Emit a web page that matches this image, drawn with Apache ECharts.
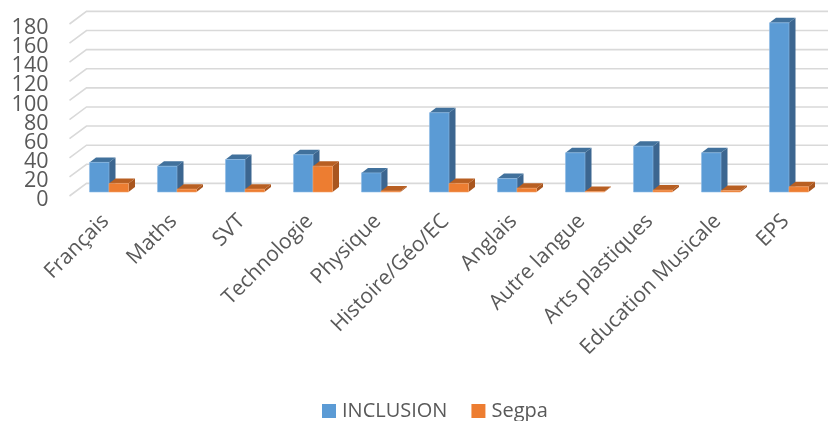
<!DOCTYPE html>
<html><head><meta charset="utf-8">
<style>html,body{margin:0;padding:0;background:#fff}#c{width:828px;height:421px}</style>
<script src="https://cdn.jsdelivr.net/npm/echarts@6/dist/echarts.min.js"></script>
</head><body><div id="c"></div>
<script>
const categories = ["Français","Maths","SVT","Technologie","Physique","Histoire/Géo/EC","Anglais","Autre langue","Arts plastiques","Education Musicale","EPS"];
const inclusion = [31,27,34,39,20,83,14,41,48,41,177];
const segpa = [9,3,3,27,1,9,4,0.5,2,1.5,5.5];
const ticks = [0,20,40,60,80,100,120,140,160,180];

const chart = echarts.init(document.getElementById('c'), null, {renderer:'canvas'});
const DX = 17, DY = 12.6, PX = 5.5, PY = 4, BD = 6.5, BDY = 5;
function bar(seriesIdx, front, side, top) {
  return function (params, api) {
    const cat = api.value(0), val = api.value(1);
    const base = api.coord([cat, 0]), head = api.coord([cat, val]);
    const w = api.size([1, 0])[0] * 0.2868;
    const x0 = base[0] + PX + (seriesIdx === 0 ? -w : 0), x1 = x0 + w;
    const yb = base[1] - PY, yt = head[1] - PY;
    return {type:'group', children:[
      {type:'polygon', shape:{points:[[x1,yb],[x1+BD,yb-BDY],[x1+BD,yt-BDY],[x1,yt]]}, style:{fill:side}},
      {type:'polygon', shape:{points:[[x0,yt],[x0+BD,yt-BDY],[x1+BD,yt-BDY],[x1,yt]]}, style:{fill:top}},
      {type:'rect', shape:{x:x0,y:yt,width:w,height:yb-yt}, style:{fill:front, stroke:seriesIdx===0?'#8fbce6':'#f4a26a', lineWidth:0.6}}
    ]};
  };
}
const yLabel = {fontSize:21.5, lineHeight:8, verticalAlign:'top', color:'#595959', margin:21, fontFamily:'"Open Sans"'};
const yBase = {type:'value', position:'left', min:0, max:180, axisLine:{show:false}, axisTick:{show:false}, splitLine:{show:false}};
chart.setOption({
  animation:false,
  textStyle:{fontFamily:'"Open Sans"'},
  legend:{data:['INCLUSION','Segpa'], left:317, top:396, itemWidth:14, itemHeight:14, itemGap:24,
    icon:'rect', textStyle:{fontSize:20,color:'#595959',fontFamily:'"Open Sans"',padding:[0,0,0,1]}},
  grid:{left:69.5, right:10.5, top:24, bottom:225, containLabel:false},
  xAxis:{type:'category', data:categories, axisLine:{show:false}, axisTick:{show:false},
    axisLabel:{interval:0, rotate:45, fontSize:21, color:'#595959', margin:24, fontFamily:'"Open Sans"', padding:[0,-3,0,0], hideOverlap:false}},
  yAxis:[
    Object.assign({}, yBase, {interval:20, axisLabel:Object.assign({}, yLabel)}),
    Object.assign({}, yBase, {interval:180, axisLabel:Object.assign({}, yLabel, {showMinLabel:true, showMaxLabel:true})})
  ],
  series:[
    {type:'custom', name:'grid', silent:true, clip:false, z:1, data:ticks.map(t=>[0,t]),
      encode:{x:0,y:1},
      renderItem:function(params, api){
        const c = api.coord([0, api.value(1)]);
        const y = c[1], x = params.coordSys.x, r = x + params.coordSys.width;
        return {type:'polyline', shape:{points:[[x,y],[x+DX,y-DY],[r+DX,y-DY]]},
          style:{fill:null, stroke:'#d9d9d9', lineWidth:1.6}};
      }},
    {type:'custom', name:'INCLUSION', z:3, itemStyle:{color:'#5b9bd5'}, encode:{x:0,y:1},
      data:inclusion.map((v,i)=>[i,v]), renderItem:bar(0,'#5b9bd5','#3c6690','#41719c')},
    {type:'custom', name:'Segpa', z:4, itemStyle:{color:'#ed7d31'}, encode:{x:0,y:1},
      data:segpa.map((v,i)=>[i,v]), renderItem:bar(1,'#ed7d31','#a9561f','#b85f22')}
  ]
});
</script></body></html>
